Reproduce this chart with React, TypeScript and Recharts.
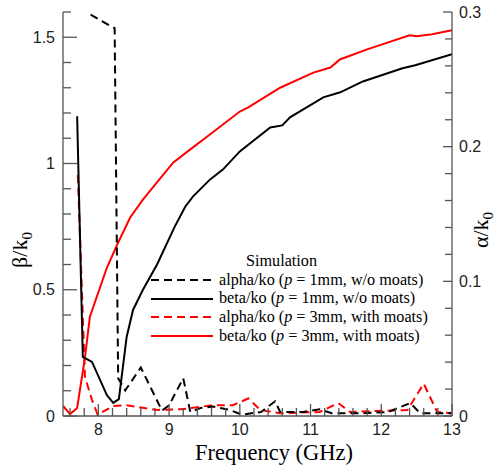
import { LineChart, Line, XAxis, YAxis } from 'recharts'

// alpha/ko, p = 1mm, w/o moats (right axis)
const alphaP1Freq = [7.89, 8.16, 8.23, 8.28, 8.38, 8.6, 8.9, 9.0, 9.2, 9.3, 9.45, 9.62, 9.86, 10.03, 10.3, 10.5, 10.57, 10.9, 11.13, 11.3, 11.7, 12.1, 12.41, 12.55, 13.0]
const alphaP1 = [0.298, 0.29, 0.288, 0.028, 0.019, 0.036, 0.004, 0.008, 0.028, 0.003, 0.006, 0.007, 0.0045, 0.001, 0.003, 0.011, 0.003, 0.003, 0.005, 0.002, 0.002, 0.003, 0.0096, 0.002, 0.002]

// beta/ko, p = 1mm, w/o moats (left axis)
const betaP1Freq = [7.7, 7.78, 7.91, 8.12, 8.21, 8.29, 8.4, 8.49, 8.63, 8.83, 9.08, 9.23, 9.34, 9.58, 9.76, 10.0, 10.43, 10.6, 10.71, 11.18, 11.42, 11.74, 12.3, 12.48, 13.0]
const betaP1 = [1.187, 0.234, 0.214, 0.083, 0.052, 0.067, 0.313, 0.42, 0.5, 0.6, 0.75, 0.83, 0.87, 0.937, 0.976, 1.048, 1.143, 1.151, 1.183, 1.262, 1.282, 1.325, 1.377, 1.389, 1.433]

// alpha/ko, p = 3mm, with moats (right axis)
const alphaP3Freq = [7.71, 7.81, 7.91, 7.99, 8.21, 8.4, 8.83, 9.17, 9.62, 9.9, 10.12, 10.29, 10.57, 11.13, 11.39, 11.56, 12.37, 12.6, 12.79, 13.0]
const alphaP3 = [0.179, 0.029, 0.012, 0.001, 0.0074, 0.008, 0.0045, 0.005, 0.008, 0.008, 0.013, 0.0045, 0.002, 0.003, 0.0096, 0.003, 0.0045, 0.024, 0.003, 0.002]

// beta/ko, p = 3mm, with moats (left axis)
const betaP3Freq = [7.5, 7.6, 7.7, 7.81, 7.88, 8.0, 8.12, 8.28, 8.45, 8.63, 8.84, 9.06, 9.3, 9.54, 10.0, 10.12, 10.57, 11.04, 11.28, 11.42, 11.49, 11.8, 12.4, 12.5, 12.72, 13.0]
const betaP3 = [0.04, 0.008, 0.032, 0.23, 0.393, 0.49, 0.587, 0.687, 0.786, 0.857, 0.929, 1.004, 1.056, 1.107, 1.206, 1.222, 1.3, 1.36, 1.38, 1.413, 1.42, 1.452, 1.508, 1.504, 1.512, 1.528]

const xTicks = [7.6, 7.8, 8, 8.2, 8.4, 8.6, 8.8, 9, 9.2, 9.4, 9.6, 9.8, 10, 10.2, 10.4, 10.6, 10.8, 11, 11.2, 11.4, 11.6, 11.8, 12, 12.2, 12.4, 12.6, 12.8, 13]
const leftTicks = [0, 0.1, 0.2, 0.3, 0.4, 0.5, 0.6, 0.7, 0.8, 0.9, 1, 1.1, 1.2, 1.3, 1.4, 1.5, 1.6]
const leftLabels: Record<string, string> = { '0': '0', '0.5': '0.5', '1': '1', '1.5': '1.5' }
const rightTicks = [0, 0.02, 0.04, 0.06, 0.08, 0.1, 0.12, 0.14, 0.16, 0.18, 0.2, 0.22, 0.24, 0.26, 0.28, 0.3]
const rightLabels: Record<string, string> = { '0': '0', '0.1': '0.1', '0.2': '0.2', '0.3': '0.3' }

const toPoints = (fs: number[], vs: number[]) => fs.map((f, i) => ({ f, v: vs[i] }))

const W = 504
const H = 466
const PLOT_LEFT = 63
const PLOT_RIGHT = 452
const PLOT_BOTTOM = 416
const AXIS = '#555'
const SANS = 'Liberation Sans, Arial, sans-serif'
const SERIF = "'Liberation Serif', 'Times New Roman', Times, serif"

function LeftTick({ y, payload }: any) {
  const label = leftLabels[String(payload.value)]
  const len = label ? 14 : 8
  return (
    <g>
      <line x1={PLOT_LEFT} x2={PLOT_LEFT + len} y1={y} y2={y} stroke={AXIS} strokeWidth={1.3} />
      {label && (
        <text x={PLOT_LEFT - 8} y={y} dy={5.5} textAnchor="end" fontFamily={SANS} fontSize={16} fill="#222">
          {label}
        </text>
      )}
    </g>
  )
}

function RightTick({ y, payload }: any) {
  const label = rightLabels[String(payload.value)]
  const len = label ? 9 : 7
  return (
    <g>
      <line x1={PLOT_RIGHT - len} x2={PLOT_RIGHT} y1={y} y2={y} stroke={AXIS} strokeWidth={1.3} />
      {label && (
        <text x={PLOT_RIGHT + 7} y={y} dy={5.5} textAnchor="start" fontFamily={SANS} fontSize={16} fill="#222">
          {label}
        </text>
      )}
    </g>
  )
}

function BottomTick({ x, payload }: any) {
  const major = Number.isInteger(payload.value)
  const len = major ? 12 : 8
  return (
    <g>
      <line x1={x} x2={x} y1={PLOT_BOTTOM - len} y2={PLOT_BOTTOM} stroke={AXIS} strokeWidth={1.3} />
      {major && (
        <text x={x} y={PLOT_BOTTOM + 19} textAnchor="middle" fontFamily={SANS} fontSize={16} fill="#222">
          {payload.value}
        </text>
      )}
    </g>
  )
}

const legendRows = [
  { color: '#000', dash: '8 5', text: 'alpha/ko (', p: '1mm, w/o moats)' },
  { color: '#000', dash: undefined, text: 'beta/ko (', p: '1mm, w/o moats)' },
  { color: '#ff0000', dash: '8 5', text: 'alpha/ko (', p: '3mm, with moats)' },
  { color: '#ff0000', dash: undefined, text: 'beta/ko (', p: '3mm, with moats)' },
]

export default function App() {
  return (
    <div style={{ position: 'absolute', left: 0, top: 0, width: W, height: H, background: '#fff' }}>
      <LineChart width={W} height={H} margin={{ top: 12, right: 0, bottom: 0, left: 0 }}>
        <XAxis
          dataKey="f"
          type="number"
          domain={[7.5, 13]}
          ticks={xTicks}
          interval={0}
          allowDataOverflow
          height={50}
          tickLine={false}
          axisLine={{ stroke: AXIS, strokeWidth: 1.3 }}
          tick={<BottomTick />}
        />
        <YAxis
          yAxisId="left"
          orientation="left"
          type="number"
          domain={[0, 1.6]}
          ticks={leftTicks}
          interval={0}
          allowDataOverflow
          width={63}
          tickLine={false}
          axisLine={{ stroke: AXIS, strokeWidth: 1.3 }}
          tick={<LeftTick />}
        />
        <YAxis
          yAxisId="right"
          orientation="right"
          type="number"
          domain={[0, 0.3]}
          ticks={rightTicks}
          interval={0}
          allowDataOverflow
          width={52}
          tickLine={false}
          axisLine={{ stroke: AXIS, strokeWidth: 1.3 }}
          tick={<RightTick />}
        />
        <Line yAxisId="left" data={toPoints(betaP3Freq, betaP3)} dataKey="v" type="linear" stroke="#ff0000" strokeWidth={2} dot={false} isAnimationActive={false} />
        <Line yAxisId="right" data={toPoints(alphaP3Freq, alphaP3)} dataKey="v" type="linear" stroke="#ff0000" strokeWidth={2} strokeDasharray="8 5" dot={false} isAnimationActive={false} />
        <Line yAxisId="left" data={toPoints(betaP1Freq, betaP1)} dataKey="v" type="linear" stroke="#000" strokeWidth={2} dot={false} isAnimationActive={false} />
        <Line yAxisId="right" data={toPoints(alphaP1Freq, alphaP1)} dataKey="v" type="linear" stroke="#000" strokeWidth={2} strokeDasharray="8 5" dot={false} isAnimationActive={false} />
      </LineChart>

      {/* axis titles */}
      <div style={{ position: 'absolute', left: 22, top: 250, transform: 'translate(-50%, -50%) rotate(-90deg)', fontFamily: SERIF, fontSize: 22, whiteSpace: 'nowrap', color: '#000', lineHeight: 1 }}>
        β/k<sub style={{ fontSize: 15 }}>0</sub>
      </div>
      <div style={{ position: 'absolute', left: 483, top: 230, transform: 'translate(-50%, -50%) rotate(-90deg)', fontFamily: SERIF, fontSize: 22, whiteSpace: 'nowrap', color: '#000', lineHeight: 1 }}>
        α/k<sub style={{ fontSize: 15 }}>0</sub>
      </div>
      <div style={{ position: 'absolute', left: 274, top: 453, transform: 'translate(-50%, -50%)', fontFamily: SERIF, fontSize: 22.5, whiteSpace: 'nowrap', color: '#000', lineHeight: 1 }}>
        Frequency (GHz)
      </div>

      {/* legend */}
      <div style={{ position: 'absolute', left: 150, top: 252, fontFamily: SERIF, fontSize: 16.2, color: '#000', lineHeight: '18.7px' }}>
        <div style={{ paddingLeft: 96 }}>Simulation</div>
        {legendRows.map((r, i) => (
          <div key={i} style={{ display: 'flex', alignItems: 'center', whiteSpace: 'nowrap' }}>
            <svg width={64} height={18} style={{ marginRight: 5 }}>
              <line x1={1} x2={63} y1={9} y2={9} stroke={r.color} strokeWidth={2} strokeDasharray={r.dash} />
            </svg>
            <span>
              {r.text}
              <i>p</i> = {r.p}
            </span>
          </div>
        ))}
      </div>
    </div>
  )
}
